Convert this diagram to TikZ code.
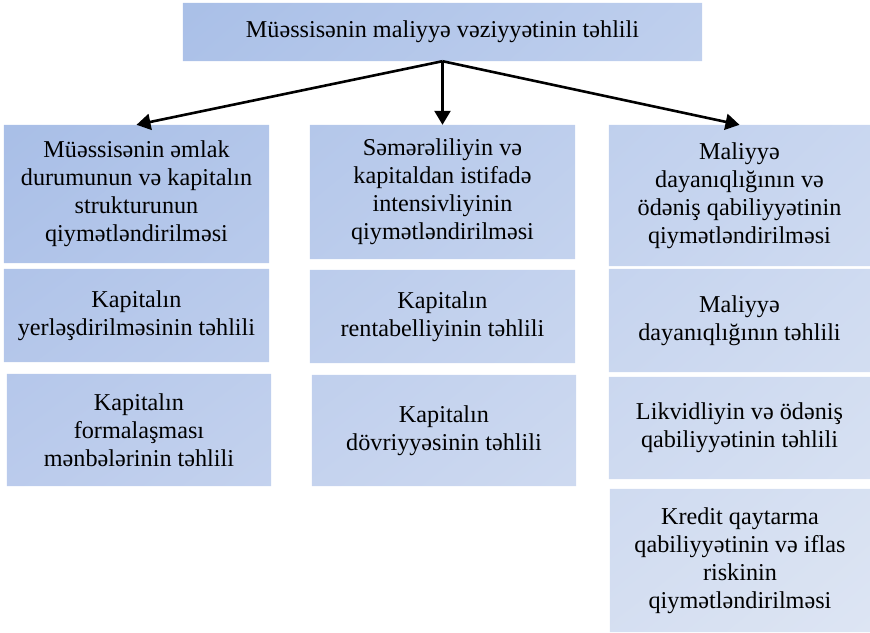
\documentclass[tikz,border=0pt]{standalone}
\usepackage{fontspec}
\setmainfont{Liberation Serif}
\usetikzlibrary{backgrounds,arrows.meta,shadings}
\definecolor{cUL}{HTML}{A2BAE5}
\definecolor{cUR}{HTML}{C4D3EF}
\definecolor{cLL}{HTML}{C2D0EE}
\definecolor{cLR}{HTML}{DDE5F3}
\newcommand\mybox[6]{\node[box, minimum width=#4pt-#2pt, minimum height=#5pt-#3pt] (#1) at ({(#2+#4)/2},{(#3+#5)/2}) {#6};}
\begin{document}
\begin{tikzpicture}[x=1pt,y=-1pt,
  box/.style={rectangle, inner sep=0pt, align=center, text=black,
    font=\fontsize{24.2}{28}\selectfont},
  arr/.style={line width=2.6pt, -{Triangle[length=14pt,width=16pt]}}]
\useasboundingbox (0,0) rectangle (870,632);
\mybox{T}{183}{3}{702}{61}{Müəssisənin maliyyə vəziyyətinin təhlili}
\mybox{L1}{4}{125}{269}{263}{Müəssisənin əmlak\\durumunun və kapitalın\\strukturunun\\qiymətləndirilməsi}
\mybox{L2}{4}{269}{269}{362}{Kapitalın\\yerləşdirilməsinin təhlili}
\mybox{L3}{7}{374}{271}{486}{Kapitalın\\formalaşması\\mənbələrinin təhlili}
\mybox{M1}{310}{125}{575}{259}{Səmərəliliyin və\\kapitaldan istifadə\\intensivliyinin\\qiymətləndirilməsi}
\mybox{M2}{310}{270}{575}{363}{Kapitalın\\rentabelliyinin təhlili}
\mybox{M3}{312}{375}{576}{486}{Kapitalın\\dövriyyəsinin təhlili}
\mybox{R1}{609}{125}{870}{266}{Maliyyə\\dayanıqlığının və\\ödəniş qabiliyyətinin\\qiymətləndirilməsi}
\mybox{R2}{609}{269}{870}{372}{Maliyyə\\dayanıqlığının təhlili}
\mybox{R3}{609}{377}{870}{479}{Likvidliyin və ödəniş\\qabiliyyətinin təhlili}
\mybox{R4}{610}{489}{870}{632}{Kredit qaytarma\\qabiliyyətinin və iflas\\riskinin\\qiymətləndirilməsi}
\begin{pgfonlayer}{background}
\begin{scope}
\clip \foreach \n in {T,L1,L2,L3,M1,M2,M3,R1,R2,R3,R4} {(\n.north west) rectangle (\n.south east)};
\shade[upper left=cUL, upper right=cUR, lower left=cLL, lower right=cLR] (0,0) rectangle (870,632);
\end{scope}
\end{pgfonlayer}
\draw[arr] (T.south) -- (L1.north);
\draw[arr] (T.south) -- (M1.north);
\draw[arr] (T.south) -- (R1.north);
\end{tikzpicture}
\end{document}
